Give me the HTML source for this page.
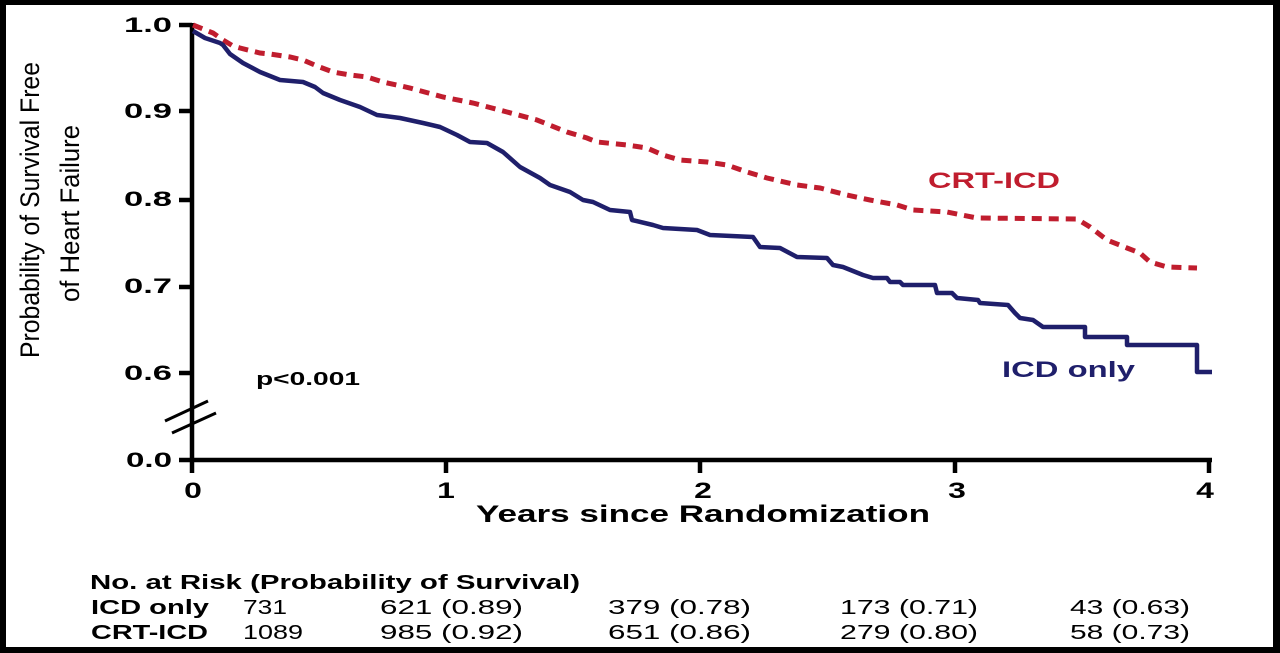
<!DOCTYPE html>
<html>
<head>
<meta charset="utf-8">
<style>
html,body{margin:0;padding:0;background:#000;}
svg{display:block;}
text{font-family:"Liberation Sans",Arial,sans-serif;}
</style>
</head>
<body>
<svg width="1280" height="653" viewBox="0 0 1280 653" xmlns="http://www.w3.org/2000/svg">
  <rect x="0" y="0" width="1280" height="653" fill="#000"/>
  <rect x="6" y="5" width="1267" height="642" fill="#fff"/>

  <!-- Y axis label -->
  <text transform="translate(39,358) rotate(-90)" font-size="27" fill="#000" textLength="296" lengthAdjust="spacingAndGlyphs">Probability of Survival Free</text>
  <text transform="translate(79,302) rotate(-90)" font-size="27" fill="#000" textLength="177" lengthAdjust="spacingAndGlyphs">of Heart Failure</text>

  <!-- Axes -->
  <g stroke="#000" stroke-width="4.5" fill="none" stroke-linecap="butt">
    <line x1="192" y1="23" x2="192" y2="473"/>
    <line x1="190" y1="460" x2="1212" y2="460"/>
    <line x1="179" y1="25" x2="192" y2="25"/>
    <line x1="179" y1="111" x2="192" y2="111"/>
    <line x1="179" y1="200" x2="192" y2="200"/>
    <line x1="179" y1="287" x2="192" y2="287"/>
    <line x1="179" y1="373" x2="192" y2="373"/>
    <line x1="179" y1="460" x2="192" y2="460"/>
    <line x1="446" y1="460" x2="446" y2="473"/>
    <line x1="700" y1="460" x2="700" y2="473"/>
    <line x1="955" y1="460" x2="955" y2="473"/>
    <line x1="1209" y1="460" x2="1209" y2="473"/>
  </g>
  <g stroke="#000" stroke-width="3">
    <line x1="165" y1="421" x2="208" y2="401"/>
    <line x1="172" y1="433" x2="216" y2="413"/>
  </g>

  <!-- Y tick labels -->
  <g font-size="21" font-weight="bold" fill="#000">
    <text x="124" y="32" textLength="48" lengthAdjust="spacingAndGlyphs">1.0</text>
    <text x="124" y="118" textLength="48" lengthAdjust="spacingAndGlyphs">0.9</text>
    <text x="124" y="206" textLength="48" lengthAdjust="spacingAndGlyphs">0.8</text>
    <text x="124" y="293" textLength="48" lengthAdjust="spacingAndGlyphs">0.7</text>
    <text x="124" y="380" textLength="48" lengthAdjust="spacingAndGlyphs">0.6</text>
    <text x="126" y="467" textLength="46" lengthAdjust="spacingAndGlyphs">0.0</text>
  </g>

  <!-- X tick labels -->
  <g font-size="22" font-weight="bold" fill="#000" text-anchor="middle">
    <text transform="translate(193,498) scale(1.45,1)">0</text>
    <text transform="translate(446,498) scale(1.45,1)">1</text>
    <text transform="translate(703,498) scale(1.45,1)">2</text>
    <text transform="translate(957,498) scale(1.45,1)">3</text>
    <text transform="translate(1205,498) scale(1.45,1)">4</text>
  </g>
  <text x="476" y="522" font-size="24" font-weight="bold" fill="#000" textLength="454" lengthAdjust="spacingAndGlyphs">Years since Randomization</text>

  <!-- CRT-ICD curve (red dashed) -->
  <polyline fill="none" stroke="#c01d2e" stroke-width="5" stroke-dasharray="10 7"
    points="193,25 213,33 223,40 233,46 240,48 260,53 270,54 290,57 303,60 317,66 333,72 350,75 367,77 383,82 410,88 443,97 473,103 507,112 537,120 567,132 587,138 597,142 627,145 647,148 663,155 680,160 707,162 727,165 747,172 767,178 797,185 820,188 847,195 870,200 897,205 913,210 947,212 977,218 1077,219 1090,227 1107,240 1127,248 1140,253 1150,262 1167,267 1197,268"/>

  <!-- ICD only curve (navy) -->
  <polyline fill="none" stroke="#1f1f6b" stroke-width="4.5" stroke-linejoin="round"
    points="193,31 205,38 220,43 223,45 230,54 243,63 260,72 280,80 303,82 315,87 323,93 340,100 360,107 377,115 400,118 423,123 440,127 457,135 470,142 487,143 503,152 520,167 540,178 550,185 570,192 583,200 593,202 610,210 630,212 632,220 653,225 663,228 697,230 710,235 753,237 760,247 780,248 797,257 827,258 833,265 843,267 863,275 873,278 887,278 890,282 900,282 903,285 935,285 937,293 952,293 957,298 978,300 980,303 1008,305 1015,313 1020,318 1033,320 1043,327 1085,327 1085,337 1127,337 1127,345 1197,345 1197,372 1212,372"/>

  <!-- Annotations -->
  <text x="256" y="385" font-size="18" font-weight="bold" fill="#000" textLength="104" lengthAdjust="spacingAndGlyphs">p&lt;0.001</text>
  <text x="928" y="188" font-size="22" font-weight="bold" fill="#c01d2e" textLength="132" lengthAdjust="spacingAndGlyphs">CRT-ICD</text>
  <text x="1002" y="377" font-size="22" font-weight="bold" fill="#1f1f6b" textLength="133" lengthAdjust="spacingAndGlyphs">ICD only</text>

  <!-- Risk table -->
  <g font-size="20" fill="#000">
    <text x="90" y="589" font-weight="bold" textLength="490" lengthAdjust="spacingAndGlyphs">No. at Risk (Probability of Survival)</text>
    <text x="91" y="614" font-weight="bold" textLength="118" lengthAdjust="spacingAndGlyphs">ICD only</text>
    <text x="91" y="639" font-weight="bold" textLength="117" lengthAdjust="spacingAndGlyphs">CRT-ICD</text>

    <text x="243" y="614" textLength="44" lengthAdjust="spacingAndGlyphs">731</text>
    <text x="380" y="614" textLength="143" lengthAdjust="spacingAndGlyphs">621 (0.89)</text>
    <text x="608" y="614" textLength="143" lengthAdjust="spacingAndGlyphs">379 (0.78)</text>
    <text x="840" y="614" textLength="138" lengthAdjust="spacingAndGlyphs">173 (0.71)</text>
    <text x="1070" y="614" textLength="120" lengthAdjust="spacingAndGlyphs">43 (0.63)</text>

    <text x="243" y="639" textLength="60" lengthAdjust="spacingAndGlyphs">1089</text>
    <text x="380" y="639" textLength="143" lengthAdjust="spacingAndGlyphs">985 (0.92)</text>
    <text x="608" y="639" textLength="143" lengthAdjust="spacingAndGlyphs">651 (0.86)</text>
    <text x="840" y="639" textLength="138" lengthAdjust="spacingAndGlyphs">279 (0.80)</text>
    <text x="1070" y="639" textLength="120" lengthAdjust="spacingAndGlyphs">58 (0.73)</text>
  </g>
</svg>
</body>
</html>
